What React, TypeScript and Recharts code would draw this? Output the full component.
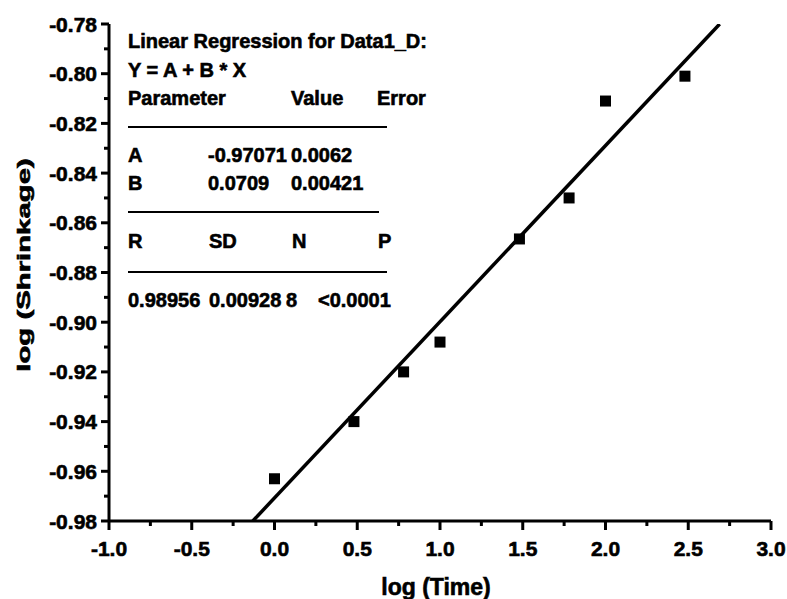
import { ScatterChart, Scatter, XAxis, YAxis } from 'recharts';

// log(Time) and log(Shrinkage)
const timeLog = [0.0, 0.48, 0.78, 1.0, 1.48, 1.78, 2.0, 2.48];
const shrinkLog = [-0.963, -0.940, -0.920, -0.908, -0.8665, -0.850, -0.811, -0.801];

// end points of the fitted line where it meets the plot frame
const fitX = [-0.131, 2.69];
const fitY = [-0.98, -0.78];

const xTicks = [-1, -0.75, -0.5, -0.25, 0, 0.25, 0.5, 0.75, 1, 1.25, 1.5, 1.75, 2, 2.25, 2.5, 2.75, 3];
const yTicks = [
  -0.98, -0.97, -0.96, -0.95, -0.94, -0.93, -0.92, -0.91, -0.9, -0.89, -0.88,
  -0.87, -0.86, -0.85, -0.84, -0.83, -0.82, -0.81, -0.8, -0.79, -0.78,
];

const statRows = [
  ['A', '-0.97071', '0.0062'],
  ['B', '0.0709', '0.00421'],
];
const fitStats = ['0.98956', '0.00928', '8', '<0.0001'];

const points = timeLog.map((x, i) => ({ x, y: shrinkLog[i] }));
const fitLine = fitX.map((x, i) => ({ x, y: fitY[i] }));

const FONT = '"Liberation Sans", Arial, sans-serif';
// scanned text is heavier than plain bold, so give it a thin outline
const heavy = { fontWeight: 'bold' as const, fontFamily: FONT, fill: '#000', stroke: '#000', strokeWidth: 0.6 };

const isMajor = (v: number, step: number) => Math.abs(v / step - Math.round(v / step)) < 1e-6;

const XTick = ({ x, y, payload }: any) => {
  const major = isMajor(payload.value, 0.5);
  return (
    <g>
      <line x1={x} x2={x} y1={y} y2={y + (major ? 9 : 5)} stroke="#000" strokeWidth={3} />
      {major && (
        <text x={x} y={y + 35} textAnchor="middle" fontSize={21} {...heavy}>
          {payload.value.toFixed(1)}
        </text>
      )}
    </g>
  );
};

const YTick = ({ x, y, payload }: any) => {
  const major = isMajor(payload.value, 0.02);
  return (
    <g>
      <line x1={x} x2={x - (major ? 8 : 5)} y1={y} y2={y} stroke="#000" strokeWidth={3} />
      {major && (
        <text x={x - 12} y={y + 7.5} textAnchor="end" fontSize={21} {...heavy}>
          {payload.value.toFixed(2)}
        </text>
      )}
    </g>
  );
};

const Square = ({ cx, cy }: any) => <rect x={cx - 5.5} y={cy - 5.5} width={11} height={11} fill="#000" />;

export default function App() {
  const t = { fontSize: 20, ...heavy };
  return (
    <div style={{ position: 'absolute', left: 0, top: 0, width: 787, height: 599, background: '#fff' }}>
      <ScatterChart width={787} height={599} margin={{ top: 24, right: 16, bottom: 0, left: 0 }}>
        <XAxis
          type="number"
          dataKey="x"
          domain={[-1, 3]}
          ticks={xTicks}
          interval={0}
          height={78}
          tickSize={0}
          tickMargin={0}
          tickLine={false}
          tick={<XTick />}
          axisLine={{ stroke: '#000', strokeWidth: 3 }}
          allowDataOverflow
        />
        <YAxis
          type="number"
          dataKey="y"
          domain={[-0.98, -0.78]}
          ticks={yTicks}
          interval={0}
          width={109}
          tickSize={0}
          tickMargin={0}
          tickLine={false}
          tick={<YTick />}
          axisLine={{ stroke: '#000', strokeWidth: 3 }}
          allowDataOverflow
        />
        <Scatter
          data={fitLine}
          line={{ stroke: '#000', strokeWidth: 3.5 }}
          shape={() => <g />}
          isAnimationActive={false}
        />
        <Scatter data={points} shape={<Square />} isAnimationActive={false} />
      </ScatterChart>
      <svg width={787} height={599} style={{ position: 'absolute', left: 0, top: 0, pointerEvents: 'none' }}>
        <text x={128} y={48} {...t}>Linear Regression for Data1_D:</text>
        <text x={128} y={77} {...t}>Y = A + B * X</text>
        <text x={128} y={105} {...t}>Parameter</text>
        <text x={291} y={105} {...t}>Value</text>
        <text x={377} y={105} {...t}>Error</text>
        <line x1={128} x2={387} y1={127} y2={127} stroke="#000" strokeWidth={2} />
        {statRows.map((r, i) => (
          <g key={r[0]}>
            <text x={128} y={162 + i * 28} {...t}>{r[0]}</text>
            <text x={208} y={162 + i * 28} {...t}>{r[1]}</text>
            <text x={291} y={162 + i * 28} {...t}>{r[2]}</text>
          </g>
        ))}
        <line x1={128} x2={379} y1={212} y2={212} stroke="#000" strokeWidth={2} />
        <text x={128} y={248} {...t}>R</text>
        <text x={209} y={248} {...t}>SD</text>
        <text x={292} y={248} {...t}>N</text>
        <text x={378} y={248} {...t}>P</text>
        <line x1={128} x2={387} y1={272} y2={272} stroke="#000" strokeWidth={2} />
        <text x={128} y={307} {...t}>{fitStats[0]}</text>
        <text x={209} y={307} {...t}>{fitStats[1]}</text>
        <text x={286} y={307} {...t}>{fitStats[2]}</text>
        <text x={318} y={307} {...t}>{fitStats[3]}</text>
        <text x={436} y={595} textAnchor="middle" fontSize={23} {...heavy}>
          log (Time)
        </text>
        <text transform="translate(30 265) rotate(-90) scale(1.63 1)" textAnchor="middle" fontSize={18} {...heavy}>
          log (Shrinkage)
        </text>
      </svg>
    </div>
  );
}
